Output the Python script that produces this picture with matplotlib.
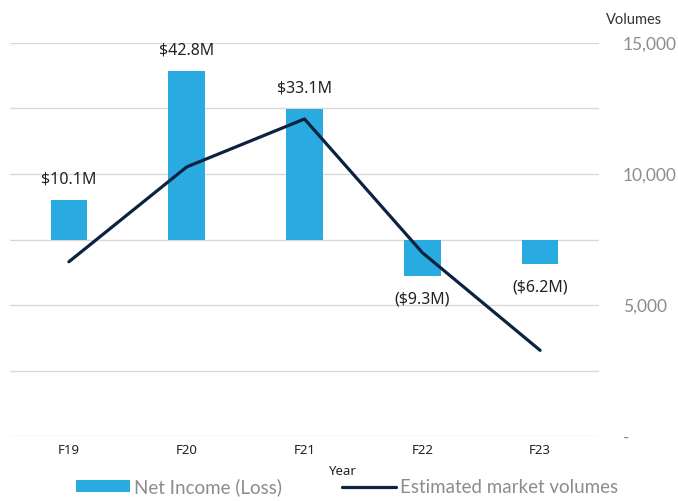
import numpy as np
import matplotlib.pyplot as plt

years = ['F19', 'F20', 'F21', 'F22', 'F23']
net_income = [10.1, 42.8, 33.1, -9.3, -6.2]          # $M
volumes = [6650, 10270, 12100, 7000, 3270]           # estimated market volumes
bar_labels = ['$10.1M', '$42.8M', '$33.1M', '($9.3M)', '($6.2M)']

bar_color = '#29abe2'
line_color = '#0d2240'
grey = '#8c8c8c'

fig = plt.figure(figsize=(6.78, 5.01), dpi=100)
ax = fig.add_axes([10/678, 65/501, 589/678, 393/501])
x = np.arange(len(years))

# bars on a hidden left axis, zero sits halfway up
ax.set_ylim(-50, 50)
ax.set_xlim(-0.5, len(years) - 0.5)
ax.set_yticks(np.linspace(-50, 50, 7))
ax.grid(axis='y', color='#d9d9d9', lw=1)
ax.set_axisbelow(True)
bars = ax.bar(x, net_income, width=0.31, color=bar_color, label='Net Income (Loss)', zorder=2)
for b, v, s in zip(bars, net_income, bar_labels):
    off = 9 if v > 0 else -11
    ax.annotate(s, (b.get_x() + b.get_width()/2, v), xytext=(0, off),
                textcoords='offset points', ha='center',
                va='bottom' if v > 0 else 'top', fontsize=11.5,
                family='Noto Sans', color='#222222')
for s in ax.spines.values():
    s.set_visible(False)
ax.set_xticks(x, years, fontsize=9.5, family='Noto Sans', color='#222222')
ax.tick_params(axis='x', length=0, pad=6)
ax.set_xlabel('Year', fontsize=9.5, family='Noto Sans', color='#222222', labelpad=2)
ax.xaxis.set_label_coords(332/589, -0.075)

# volume line on the right axis
ax2 = ax.twinx()
ax.tick_params(axis='y', left=False, right=False, labelleft=False, labelright=False)
ax2.set_ylim(0, 15000)
ax2.plot(x, volumes, color=line_color, lw=2.3, label='Estimated market volumes',
         solid_capstyle='round', zorder=3)
ax2.set_yticks([0, 5000, 10000, 15000], ['-', '5,000', '10,000', '15,000'])
ax2.tick_params(axis='y', length=0, pad=17, labelsize=12.5, labelcolor=grey)
for lab in ax2.get_yticklabels():
    lab.set_family('Lato')
for s in ax2.spines.values():
    s.set_visible(False)
fig.text(606/678, 1 - 20/501, 'Volumes', fontsize=10.5, family='Lato',
         color='#333333', va='center')

h1, l1 = ax.get_legend_handles_labels()
h2, l2 = ax2.get_legend_handles_labels()
fig.legend(h1 + h2, l1 + l2, loc='center', bbox_to_anchor=(347/678, 1 - 487/501),
           ncol=2, frameon=False, handlelength=2.9, handleheight=0.6,
           columnspacing=3.2, handletextpad=0.2,
           prop={'family': 'Lato', 'size': 13.5}, labelcolor=grey)

fig.savefig('out.png', dpi=100)
